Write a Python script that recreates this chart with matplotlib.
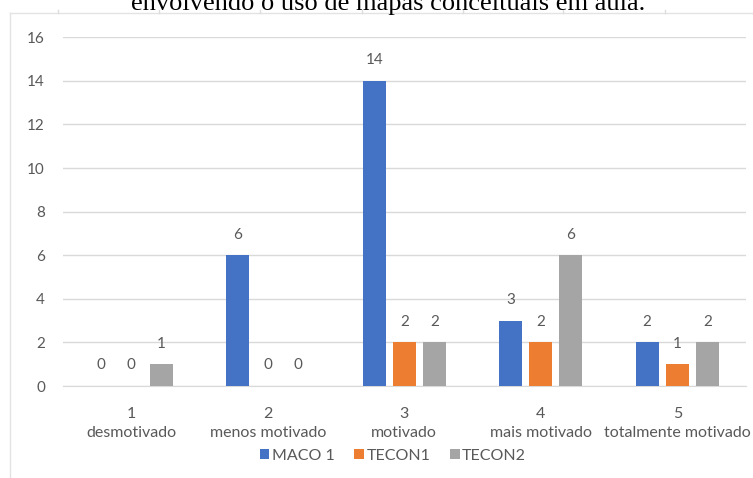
import matplotlib
matplotlib.use("Agg")
import matplotlib.pyplot as plt
from matplotlib.lines import Line2D
import numpy as np

categories = ["1\ndesmotivado", "2\nmenos motivado", "3\nmotivado", "4\nmais motivado", "5\ntotalmente motivado"]
series_names = ["MACO 1", "TECON1", "TECON2"]
maco1 = [0, 6, 14, 3, 2]
tecon1 = [0, 0, 2, 2, 1]
tecon2 = [1, 0, 2, 6, 2]
yticks = [0, 2, 4, 6, 8, 10, 12, 14, 16]
title = "envolvendo o uso de mapas conceituais em aula."

colors = ["#4472C4", "#ED7D31", "#A5A5A5"]
txt = "#595959"
plt.rcParams['font.family'] = ['Lato', 'DejaVu Sans']

fig = plt.figure(figsize=(7.53, 4.78), dpi=100)
ax = fig.add_axes([63/753, 1 - 386/478, (745.5 - 63)/753, (386 - 37.2)/478])

x = np.arange(len(categories))
w = 0.168
off = 0.22
for i, (vals, name) in enumerate(zip([maco1, tecon1, tecon2], series_names)):
    pos = x + (i - 1) * off
    ax.bar(pos, vals, width=w, color=colors[i], label=name, zorder=3)
    for p, v in zip(pos, vals):
        ax.text(p, v + 0.62, str(v), ha="center", va="bottom", fontsize=11, color=txt)

ax.set_xlim(-0.5, len(categories) - 0.5)
ax.set_ylim(0, 16)
ax.set_yticks(yticks)
ax.set_xticks(x)
ax.set_xticklabels(categories, fontsize=11.5, color=txt, linespacing=1.45)
ax.tick_params(axis="y", length=0, pad=13, labelsize=11, labelcolor=txt)
ax.tick_params(axis="x", length=0, pad=15)
ax.grid(axis="y", color="#D9D9D9", linewidth=1, zorder=0)
for s in ["top", "right", "left"]:
    ax.spines[s].set_visible(False)
ax.spines["bottom"].set_color("#D9D9D9")

leg = ax.legend(loc="center", bbox_to_anchor=(393/753, 1 - 456/478), bbox_transform=fig.transFigure,
                ncol=3, frameon=False, fontsize=11.5, handlelength=0.6, handleheight=0.6,
                handletextpad=0.15, columnspacing=1.25, labelcolor=txt)

fig.text(388/753, 1 - 10/478, title, ha="center", va="baseline", fontsize=19,
         family="Liberation Serif", color="black")

fig.add_artist(Line2D([10/753, 10/753], [0, 1 - 13/478], color="#E3E3E3", lw=1))
fig.add_artist(Line2D([10/753, 1], [1 - 13/478, 1 - 13/478], color="#E3E3E3", lw=1))
for tx in [58, 159, 260, 362, 463, 563, 665]:
    fig.add_artist(Line2D([tx/753, tx/753], [1 - 13/478, 1 - 10/478], color="#DDDDDD", lw=1))

fig.savefig("out.png", dpi=100)
